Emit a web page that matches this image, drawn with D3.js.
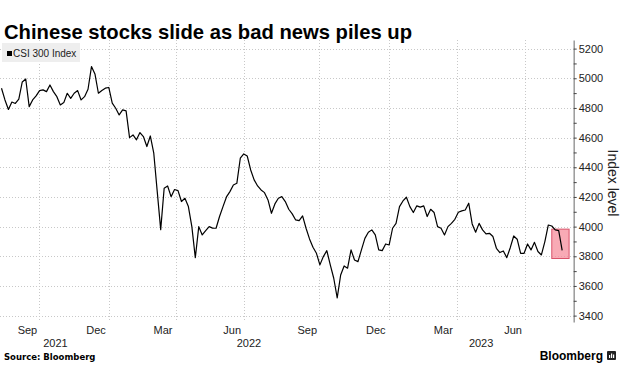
<!DOCTYPE html>
<html>
<head>
<meta charset="utf-8">
<script src="https://cdn.jsdelivr.net/npm/d3@7"></script>
<style>
  body { margin: 0; background: #fff; }
  svg { display: block; font-family: "Liberation Sans", Arial, sans-serif; }
</style>
</head>
<body>
<div id="chart"></div>
<script>
// CSI 300 closes, one reading every 3rd trading day from 13 Aug 2021
const startDate = "2021-08-13";
const axisEndDate = "2023-08-30";
const stepDays = 3;
const closes = [
  4933, 4854, 4790, 4840, 4830, 4860, 4975, 4995, 4809, 4854,
  4881, 4917, 4922, 4910, 4955, 4910, 4876, 4820, 4836, 4899,
  4865, 4899, 4917, 4854, 4876, 4926, 5079, 5029, 4899, 4917,
  4933, 4938, 4832, 4798, 4753, 4787, 4780, 4600, 4618, 4585,
  4634, 4607, 4540, 4611, 4495, 4236, 3980, 4259, 4274, 4202,
  4250, 4243, 4169, 4191, 4135, 4000, 3790, 4000, 3944, 3973,
  4000, 3990, 3989, 4068, 4135, 4200, 4236, 4281, 4292, 4461,
  4490, 4476, 4382, 4315, 4274, 4247, 4229, 4180, 4090, 4153,
  4191, 4202, 4169, 4117, 4086, 4045, 4040, 4072, 3989, 3917,
  3861, 3820, 3742, 3798, 3838, 3742, 3652, 3520, 3674, 3735,
  3720, 3843, 3775, 3764, 3843, 3921, 3962, 3978, 3944, 3843,
  3838, 3883, 3876, 3989, 4022, 4135, 4173, 4198, 4135, 4095,
  4140, 4131, 4140, 4068, 4117, 4095, 4000, 3989, 3944, 4000,
  4022, 4049, 4097, 4106, 4112, 4158, 4018, 3962, 4022, 3978,
  3951, 3955, 3933, 3854, 3825, 3836, 3791, 3858, 3937, 3915,
  3820, 3820, 3883, 3843, 3894, 3832, 3809, 3899, 4011, 4004,
  3978, 3973, 3840
];

// weekday closures of the Shanghai/Shenzhen exchanges
const holidays = [
  "2021-09-20","2021-09-21","2021-10-01","2021-10-04","2021-10-05","2021-10-06","2021-10-07",
  "2022-01-03","2022-01-31","2022-02-01","2022-02-02","2022-02-03","2022-02-04",
  "2022-04-04","2022-04-05","2022-05-02","2022-05-03","2022-05-04","2022-06-03",
  "2022-09-12","2022-10-03","2022-10-04","2022-10-05","2022-10-06","2022-10-07",
  "2023-01-02","2023-01-23","2023-01-24","2023-01-25","2023-01-26","2023-01-27",
  "2023-04-05","2023-05-01","2023-05-02","2023-05-03","2023-06-22","2023-06-23"
];

const quarterStarts = ["2021-10-01","2022-01-01","2022-04-01","2022-07-01","2022-10-01","2023-01-01","2023-04-01","2023-07-01"];
const labelMonths = ["2021-09","2021-12","2022-03","2022-06","2022-09","2022-12","2023-03","2023-06"];
const years = ["2021","2022","2023"];
const yTicks = [3400, 3600, 3800, 4000, 4200, 4400, 4600, 4800, 5000, 5200];
const yMinorTicks = [3500, 3700, 3900, 4100, 4300, 4500, 4700, 4900, 5100];
const highlight = { from: "2023-08-03", to: "2023-08-24", low: 3785, high: 3983 };

const title = "Chinese stocks slide as bad news piles up";
const seriesName = "CSI 300 Index";

const W = 620, H = 371;
const fmt = d3.utcFormat("%Y-%m-%d");
const parse = d3.utcParse("%Y-%m-%d");

// trading calendar
const holidaySet = new Set(holidays);
const tradingDays = d3.utcDay.range(parse(startDate), d3.utcDay.offset(parse(axisEndDate), 1))
  .filter(d => d.getUTCDay() !== 0 && d.getUTCDay() !== 6 && !holidaySet.has(fmt(d)));
const dayIndex = new Map(tradingDays.map((d, i) => [fmt(d), i]));
const firstIndexOnOrAfter = s => d3.bisector(d => d).left(tradingDays, parse(s));

const data = closes.map((v, i) => ({ i: i * stepDays, v }));

const plot = { left: 0, right: 573.7, top: 40, bottom: 322 };

const x = d3.scaleLinear()
  .domain([0, dayIndex.get(axisEndDate)])
  .range([1.5, plot.right]);

const y = d3.scaleLinear()
  .domain([3357, 5258])
  .range([plot.bottom, plot.top]);

const svg = d3.select("#chart").append("svg")
  .attr("width", W)
  .attr("height", H);

svg.append("rect").attr("width", W).attr("height", H).attr("fill", "#fff");

svg.append("text")
  .attr("x", 4)
  .attr("y", 39)
  .attr("font-size", 21)
  .attr("font-weight", "bold")
  .attr("fill", "#000")
  .attr("textLength", 408)
  .attr("lengthAdjust", "spacingAndGlyphs")
  .text(title);

// grid
const grid = svg.append("g")
  .attr("stroke", "#c8c8c8")
  .attr("stroke-width", 1)
  .attr("stroke-dasharray", "1,2");

grid.selectAll(".hg").data(yTicks).enter().append("line")
  .attr("x1", plot.left).attr("x2", plot.right)
  .attr("y1", d => Math.round(y(d)) + 0.5).attr("y2", d => Math.round(y(d)) + 0.5);

const quarterX = quarterStarts.map(s => x(firstIndexOnOrAfter(s) - 0.5));
grid.selectAll(".vg").data(quarterX).enter().append("line")
  .attr("x1", d => Math.round(d) + 0.5).attr("x2", d => Math.round(d) + 0.5)
  .attr("y1", plot.top).attr("y2", plot.bottom);

// legend
const legend = svg.append("g");
legend.append("rect")
  .attr("x", 2).attr("y", 43).attr("width", 78).attr("height", 19)
  .attr("fill", "#eeeeee");
legend.append("rect")
  .attr("x", 7).attr("y", 51).attr("width", 5).attr("height", 5)
  .attr("fill", "#000");
legend.append("text")
  .attr("x", 13).attr("y", 57.3)
  .attr("font-size", 10)
  .attr("fill", "#222")
  .text(seriesName);

// highlight box
svg.append("rect")
  .attr("x", x(dayIndex.get(highlight.from)))
  .attr("width", x(dayIndex.get(highlight.to)) - x(dayIndex.get(highlight.from)))
  .attr("y", y(highlight.high))
  .attr("height", y(highlight.low) - y(highlight.high))
  .attr("fill", "#f58d9c")
  .attr("fill-opacity", 0.75)
  .attr("stroke", "#d9536a")
  .attr("stroke-width", 1);

// line
const line = d3.line()
  .x(d => x(d.i))
  .y(d => y(d.v));

svg.append("path")
  .datum(data)
  .attr("fill", "none")
  .attr("stroke", "#000")
  .attr("stroke-width", 1.2)
  .attr("stroke-linejoin", "round")
  .attr("d", line);

// y axis on the right
const yAxis = svg.append("g")
  .attr("transform", `translate(${plot.right},0)`)
  .call(d3.axisRight(y).tickValues(yTicks).tickFormat(d3.format("d"))
    .tickSize(3).tickSizeOuter(0).tickPadding(2));
yAxis.select(".domain").attr("stroke", "#9a9a9a").attr("stroke-width", 1.5);
yAxis.selectAll(".tick line").attr("stroke", "#444");
yAxis.selectAll(".tick text")
  .attr("font-family", "Liberation Sans, Arial, sans-serif")
  .attr("font-size", 11)
  .attr("fill", "#222");

svg.append("g")
  .attr("transform", `translate(${plot.right},0)`)
  .call(d3.axisRight(y).tickValues(yMinorTicks).tickSize(3).tickFormat(""))
  .call(g => g.select(".domain").remove())
  .selectAll(".tick line").attr("stroke", "#444");

svg.append("text")
  .attr("transform", `translate(608,183) rotate(90)`)
  .attr("text-anchor", "middle")
  .attr("font-size", 14)
  .attr("fill", "#222")
  .text("Index level");

// month labels centred on each month's trading days
const monthFmt = d3.utcFormat("%b");
const monthPos = labelMonths.map(m => {
  const idx = tradingDays.map((d, i) => [d, i]).filter(([d]) => fmt(d).startsWith(m)).map(([, i]) => i);
  return { label: monthFmt(parse(m + "-01")), x: x(d3.mean(idx)) };
});
svg.append("g").selectAll("text").data(monthPos).enter().append("text")
  .attr("x", d => d.x).attr("y", 334)
  .attr("text-anchor", "middle")
  .attr("font-size", 11)
  .attr("fill", "#222")
  .text(d => d.label);

// year labels centred on the part of each year shown
const dom = x.domain();
const yearPos = years.map(yr => {
  const a = Math.max(dom[0], firstIndexOnOrAfter(yr + "-01-01") - 0.5);
  const b = Math.min(dom[1], firstIndexOnOrAfter((+yr + 1) + "-01-01") - 0.5);
  return { label: yr, x: (x(a) + x(b)) / 2 };
});
svg.append("g").selectAll("text").data(yearPos).enter().append("text")
  .attr("x", d => d.x).attr("y", 347)
  .attr("text-anchor", "middle")
  .attr("font-size", 11)
  .attr("fill", "#222")
  .text(d => d.label);

// footer
svg.append("text")
  .attr("x", 4).attr("y", 360)
  .attr("font-family", "DejaVu Sans, sans-serif")
  .attr("font-size", 8.5)
  .attr("font-weight", "bold")
  .attr("fill", "#000")
  .text("Source: Bloomberg");

svg.append("text")
  .attr("x", 603).attr("y", 360)
  .attr("text-anchor", "end")
  .attr("font-size", 12)
  .attr("font-weight", "bold")
  .attr("fill", "#000")
  .text("Bloomberg");

const logo = svg.append("g").attr("transform", "translate(607,351)");
logo.append("rect").attr("width", 9).attr("height", 9).attr("rx", 1).attr("fill", "#222");
logo.append("rect").attr("x", 2).attr("y", 4).attr("width", 1.2).attr("height", 3).attr("fill", "#fff");
logo.append("rect").attr("x", 4).attr("y", 2.5).attr("width", 1.2).attr("height", 4.5).attr("fill", "#fff");
logo.append("rect").attr("x", 6).attr("y", 3.5).attr("width", 1.2).attr("height", 3.5).attr("fill", "#fff");
</script>
</body>
</html>
